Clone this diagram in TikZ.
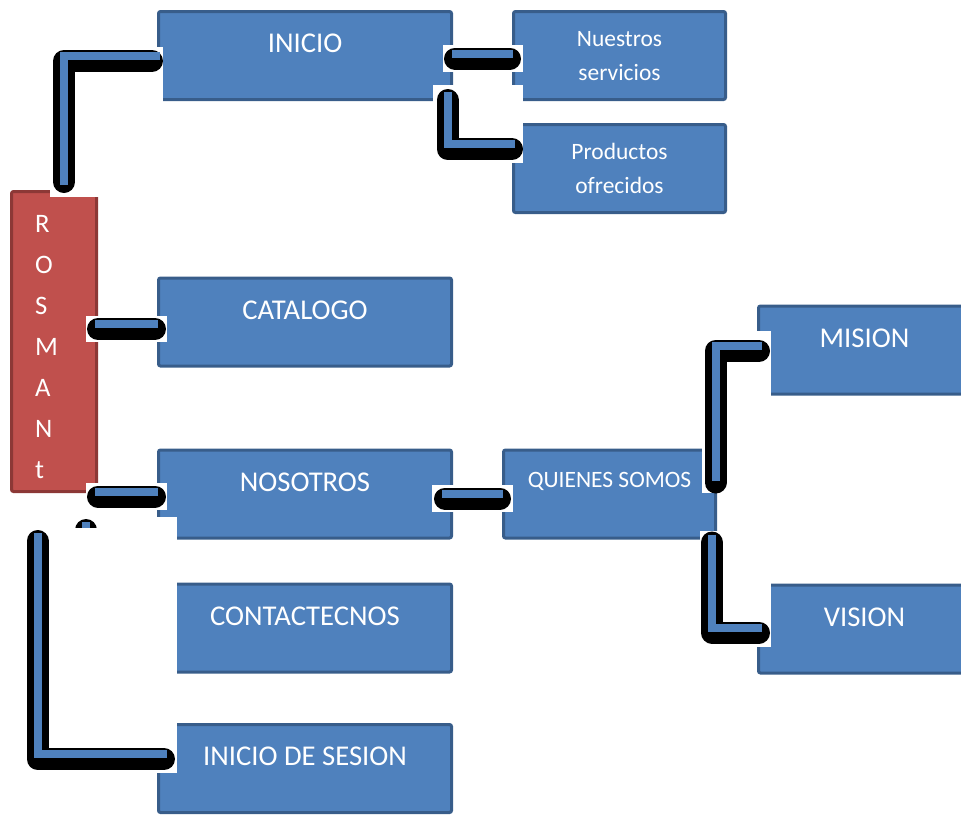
\documentclass[tikz,border=0pt]{standalone}
\usepackage{fontspec}
\setmainfont{Carlito}
\usetikzlibrary{calc}
\definecolor{boxblue}{HTML}{4F81BD}
\definecolor{boxedge}{HTML}{385D8A}
\definecolor{boxred}{HTML}{C0504D}
\definecolor{rededge}{HTML}{8C3836}
\tikzset{
  box/.style={draw=boxedge, fill=boxblue, line width=2.25pt, rounded corners=1.5pt,
    outer sep=0pt, inner sep=0pt, minimum height=66pt},
  wide/.style={minimum width=219.75pt},
  narrow/.style={minimum width=159pt},
  redbox/.style={draw=rededge, fill=boxred, line width=2.25pt, rounded corners=1.5pt,
    outer sep=0pt, inner sep=0pt, minimum width=63.75pt, minimum height=225pt},
  bigtext/.style={text=white, font=\fontsize{21.5}{26}\selectfont, anchor=base, yshift=-30.75pt},
  smalltext/.style={text=white, font=\fontsize{17.6}{21}\selectfont, anchor=base},
  redtext/.style={text=white, font=\fontsize{20}{30.75}\selectfont, align=left,
    anchor=north west, inner sep=0pt, xshift=17.5pt, yshift=-17.5pt},
  wire/.style={draw=boxblue, line width=6pt},
  wireshadow/.style={draw=black, line width=16.5pt, line cap=round, line join=round,
    shorten <=2.25pt, shorten >=2.25pt, transform canvas={yshift=-3.75pt}},
  pad/.style={fill=white},
}
% black shadow first, blue line on top
\newcommand{\wire}[2][]{\draw[wireshadow,#1] #2; \draw[wire] #2;}

\begin{document}
\begin{tikzpicture}[x=0.75pt, y=-0.75pt]
  \useasboundingbox (0,0) rectangle (961,815);
  \clip (0,0) rectangle (961,815);

  \node[redbox, label={[redtext]north west:R\\O\\S\\M\\A\\N\\t}] (rosman) at (54,341.5) {};

  \node[box, wide, label={[bigtext]north:INICIO}] (inicio) at (305,55.5) {};
  \node[box, narrow, label={[smalltext, yshift=-26.6pt]north:Nuestros},
    label={[smalltext, yshift=-51.75pt]north:servicios}] (nuestros) at (619.5,55.5) {};
  \node[box, narrow, label={[smalltext, yshift=-26.6pt]north:Productos},
    label={[smalltext, yshift=-51.75pt]north:ofrecidos}] (productos) at (619.5,168.5) {};
  \node[box, wide, label={[bigtext]north:CATALOGO}] (catalogo) at (305,322) {};
  \node[box, wide, label={[bigtext]north:NOSOTROS}] (nosotros) at (305,494) {};
  \node[box, narrow, label={[smalltext, yshift=-28.1pt]north:QUIENES SOMOS}] (quienes) at (609.5,494) {};
  \node[box, narrow, label={[bigtext]north:MISION}] (mision) at (864.5,350) {};
  \node[box, narrow, label={[bigtext]north:VISION}] (vision) at (864.5,629) {};
  \node[box, wide, label={[bigtext]north:CONTACTECNOS}] (contactecnos) at (305,628) {};
  \node[box, wide, label={[bigtext]north:INICIO DE SESION}] (sesion) at (305,768.5) {};

  % ROSMANt -> INICIO
  \fill[pad] (50,47) rectangle (163,197);
  \wire[shorten <=6pt, shorten >=6pt]{($(rosman.north)+(10,-6.5)$) |- ($(inicio.west)+(1.5,0.5)$)}
  % INICIO -> Nuestros servicios
  \fill[pad] (443,45) rectangle (523,72);
  \wire{($(inicio.east)+(0.5,-2)$) -- ($(nuestros.west)+(-0.5,-2)$)}
  % INICIO -> Productos ofrecidos
  \fill[pad] (433,85) rectangle (523,163);
  \wire{($(inicio.south east)+(-4,-7.5)$) |- ($(productos.west)+(1.5,-24.5)$)}
  % ROSMANt -> CATALOGO
  \fill[pad] (86,316) rectangle (167,342);
  \wire{($(rosman.east |- catalogo.west)+(-1.5,2)$) -- ($(catalogo.west)+(-0.5,2)$)}
  % ROSMANt -> NOSOTROS
  \fill[pad] (86,483) rectangle (167,510);
  \wire{($(rosman.east |- nosotros.west)+(-1.5,-2.5)$) -- ($(nosotros.west)+(-0.5,-2.5)$)}
  % stub below ROSMANt
  \wire{($(rosman.south)+(32,30.5)$) -- ($(rosman.south)+(32,70)$)}
  % ROSMANt -> INICIO DE SESION
  \fill[pad] (20,528) rectangle (177,773);
  \fill[pad] (150,517) rectangle (177,528);
  \wire{($(rosman.south)+(-16.5,41.5)$) |- ($(sesion.west)+(8.5,-14.5)$)}
  % NOSOTROS -> QUIENES SOMOS
  \fill[pad] (432,485) rectangle (513,512);
  \wire{($(nosotros.east)+(-9.5,-0.5)$) -- ($(quienes.west)+(-0.5,-0.5)$)}
  % QUIENES SOMOS -> MISION
  \fill[pad] (702,331) rectangle (771,493);
  \wire{($(quienes.north east)+(0,30.5)$) |- ($(mision.west)+(3.5,-4)$)}
  % QUIENES SOMOS -> VISION
  \fill[pad] (700,531) rectangle (771,647);
  \wire{($(quienes.south east)+(-3.5,-3.5)$) |- ($(vision.west)+(3.5,-1.5)$)}
\end{tikzpicture}
\end{document}
